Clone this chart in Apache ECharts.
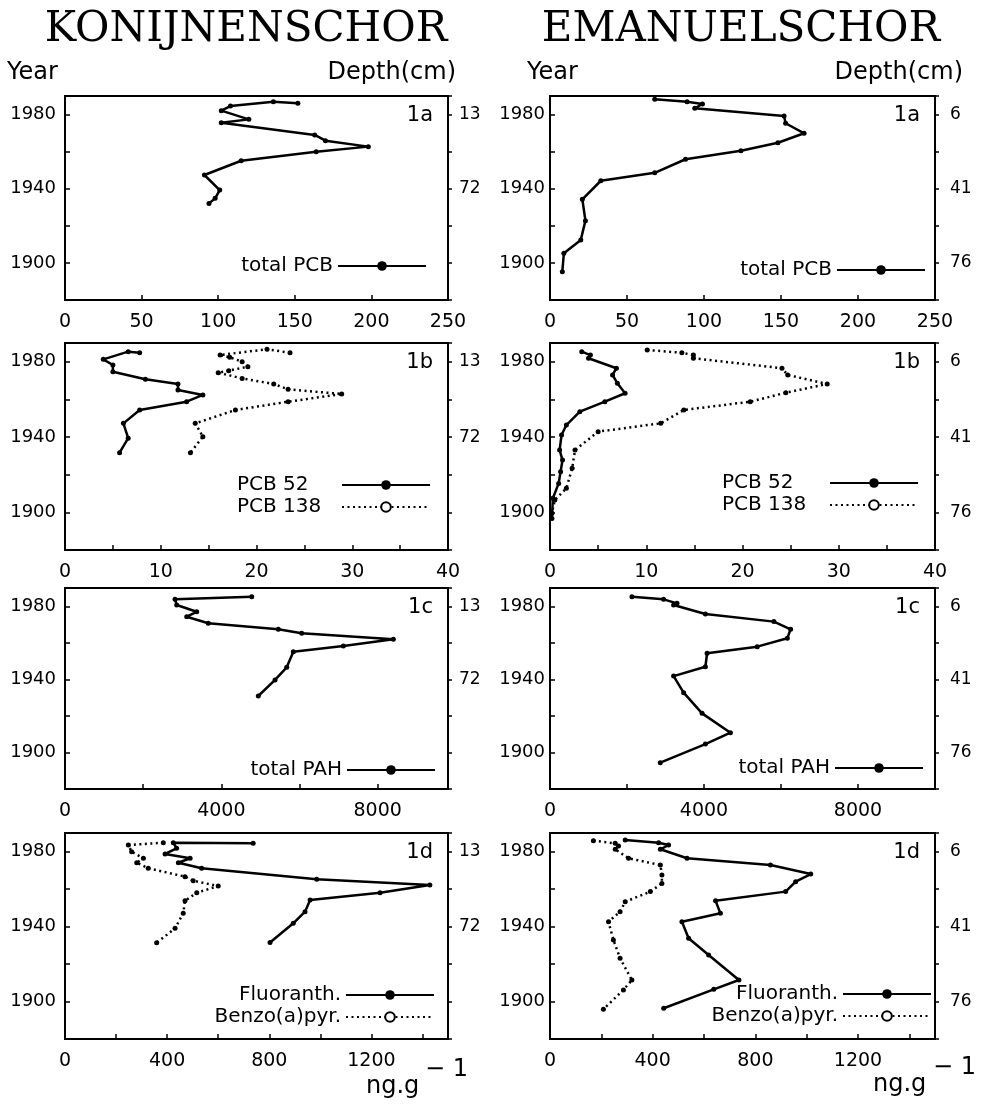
<!DOCTYPE html>
<html>
<head>
<meta charset="utf-8">
<script src="https://cdn.jsdelivr.net/npm/echarts@6/dist/echarts.min.js"></script>
<style>
html, body { margin: 0; padding: 0; background: #fff; }
#main { width: 985px; height: 1104px; }
</style>
</head>
<body>
<div id="main"></div>
<script>
// every point is [concentration, year] top to bottom
const konTotalPCB = [[152,1986.1],[136,1986.9],[108,1984.6],[102,1982.1],[120,1977.4],[102,1975.6],[163,1969],[170,1965.9],[198,1962.7],[164,1960],[115,1955.1],[91,1947.4],[101,1939.3],[98,1934.8],[94,1932.1]];
const emaTotalPCB = [[68,1988.2],[89,1986.9],[99,1985.7],[94,1983.4],[152,1979.2],[153,1975.3],[165,1969.9],[148,1964.8],[124,1960.5],[88,1955.9],[68,1948.6],[33,1944.3],[21,1934.3],[23,1922.8],[20,1912.4],[9,1905.2],[8,1895.3]];

const konPCB52 = [[7.8,1984.8],[6.6,1985.4],[4.0,1981.3],[5.0,1978.3],[5.0,1974.7],[8.4,1970.7],[11.8,1968.2],[11.8,1965],[14.4,1962.4],[12.7,1958.8],[7.8,1954.4],[6.1,1947.3],[6.6,1939.4],[5.7,1931.7]];
const konPCB138 = [[23.5,1984.8],[21.1,1986.7],[16.2,1983.6],[17.2,1982.4],[18.5,1980.1],[19.1,1977.4],[17.1,1975.3],[16.0,1974.2],[18.5,1971.2],[21.8,1968.2],[23.3,1965.4],[28.9,1962.9],[23.3,1958.8],[17.8,1954.4],[13.6,1947.3],[14.4,1940.2],[13.1,1931.7]];
const emaPCB52 = [[3.3,1985.4],[4.2,1983.6],[4.0,1981.9],[6.9,1976.6],[6.5,1973],[7.0,1968.6],[7.8,1963.3],[5.7,1958.8],[3.1,1953.5],[1.7,1946.4],[1.2,1941.1],[1.0,1933.1],[1.3,1927.8],[1.1,1921.6],[0.9,1915.4],[0.3,1907.5],[0.2,1896.8]];
const emaPCB138 = [[10.1,1986.3],[13.7,1984.8],[14.9,1983.6],[14.9,1981.9],[24.1,1976.6],[24.7,1973],[28.8,1968.2],[24.5,1963.6],[20.8,1958.8],[13.9,1954.4],[11.5,1947.3],[5.0,1942.9],[2.6,1933.1],[2.3,1923.4],[1.7,1912.8],[0.5,1906.6],[0.2,1899.5]];

const konTotalPAH = [[4778,1985.2],[2815,1983.8],[2858,1980.7],[3370,1977],[3114,1974.3],[3667,1970.7],[5458,1967.4],[6057,1965.2],[8401,1961.9],[7122,1958.3],[5842,1955.1],[5673,1946.6],[5374,1939.7],[4946,1930.9]];
const emaTotalPAH = [[2128,1985.2],[2950,1983.8],[3299,1981.6],[3211,1980.7],[4036,1975.8],[5815,1971.6],[6250,1967.4],[6164,1962.5],[5383,1957.9],[4081,1954.3],[4036,1946.9],[3211,1941.8],[3471,1932.7],[3950,1921.4],[4687,1910.8],[4036,1904.6],[2864,1894.4]];

const konFluor = [[737,1984.5],[424,1984.8],[437,1981.8],[392,1978.8],[490,1976.5],[444,1974.1],[535,1971.2],[986,1965.3],[1429,1962.2],[1234,1958.1],[960,1954.2],[940,1948],[894,1941.8],[803,1931.5]];
const konBenzo = [[385,1984.8],[248,1983.6],[261,1980],[307,1976.5],[281,1974.1],[326,1971.2],[470,1966.7],[502,1964.5],[600,1961.7],[516,1958.1],[470,1953.8],[463,1947.1],[431,1939.1],[359,1931.4]];
const emaFluor = [[293,1986.3],[423,1984.8],[462,1983.6],[430,1981.3],[534,1976.5],[859,1972.9],[1016,1968.1],[957,1964],[918,1958.7],[645,1953.8],[664,1947.1],[514,1942.6],[540,1933.8],[618,1924.9],[736,1911.5],[638,1906.5],[443,1896.4]];
const emaBenzo = [[169,1985.9],[254,1984.5],[267,1983.1],[254,1981.3],[306,1976.5],[430,1972.9],[436,1967.6],[436,1963.1],[391,1958.7],[293,1953.3],[273,1948],[228,1942.6],[247,1932.9],[273,1923.1],[319,1911.5],[286,1906.2],[208,1895.9]];

// tick labels
const pcbTicks = [0, 50, 100, 150, 200, 250];
const congenerTicks = [0, 10, 20, 30, 40];
const pahTicks = [0, 4000, 8000];
const singlePahTicks = [0, 400, 800, 1200];
const yearTicks = [1900, 1940, 1980];
const konDepth = { 1980: '13', 1940: '72' };
const emaDepth = { 1980: '6', 1940: '41', 1900: '76' };

const colLeft = [65, 550];
const colWidth = [383, 385];
const rowTop = [96, 343, 588, 833];
const rowHeight = [204, 207, 201, 206];
const yearMargin = [9, 5];
const depthMargin = [11, 15];

const FONT = 'DejaVu Sans';

// legend: [x where the line sample starts, centre y of first item, text align, text box width]
const panels = [
  { col: 0, row: 0, tag: '1a', max: 250, step: 50, ticks: pcbTicks, depth: konDepth,
    lines: [['total PCB', konTotalPCB, false]], legend: [338, 268, 'right', 150] },
  { col: 1, row: 0, tag: '1a', max: 250, step: 50, ticks: pcbTicks, depth: emaDepth,
    lines: [['total PCB', emaTotalPCB, false]], legend: [837, 272, 'right', 150] },
  { col: 0, row: 1, tag: '1b', max: 40, step: 5, ticks: congenerTicks, depth: konDepth,
    lines: [['PCB 52', konPCB52, false], ['PCB 138', konPCB138, true]], legend: [342, 487, 'left', 100] },
  { col: 1, row: 1, tag: '1b', max: 40, step: 5, ticks: congenerTicks, depth: emaDepth,
    lines: [['PCB 52', emaPCB52, false], ['PCB 138', emaPCB138, true]], legend: [830, 485, 'left', 103] },
  { col: 0, row: 2, tag: '1c', max: 9800, step: 2000, ticks: pahTicks, depth: konDepth,
    lines: [['total PAH', konTotalPAH, false]], legend: [347, 772, 'right', 150] },
  { col: 1, row: 2, tag: '1c', max: 10000, step: 2000, ticks: pahTicks, depth: emaDepth,
    lines: [['total PAH', emaTotalPAH, false]], legend: [835, 770, 'right', 150] },
  { col: 0, row: 3, tag: '1d', max: 1500, step: 200, ticks: singlePahTicks, depth: konDepth,
    lines: [['Fluoranth.', konFluor, false], ['Benzo(a)pyr.', konBenzo, true]], legend: [346, 997, 'right', 160] },
  { col: 1, row: 3, tag: '1d', max: 1500, step: 200, ticks: singlePahTicks, depth: emaDepth,
    lines: [['Fluoranth.', emaFluor, false], ['Benzo(a)pyr.', emaBenzo, true]], legend: [843, 996, 'right', 160] }
];

const grid = [], xAxis = [], yAxis = [], series = [], legend = [], graphic = [];

panels.forEach((p, i) => {
  grid.push({
    left: colLeft[p.col], top: rowTop[p.row], width: colWidth[p.col], height: rowHeight[p.row],
    show: true, borderColor: '#000', borderWidth: 2, backgroundColor: 'transparent'
  });
  xAxis.push({
    type: 'value', gridIndex: i, min: 0, max: p.max, interval: p.step,
    axisLine: { lineStyle: { color: '#000', width: 2 } },
    axisTick: { inside: true, length: 5, lineStyle: { color: '#000', width: 1.5 } },
    splitLine: { show: false },
    axisLabel: {
      margin: 13, color: '#000', fontFamily: FONT, fontSize: 19,
      formatter: v => p.ticks.includes(v) ? String(v) : ''
    }
  });
  // year axis on the left
  yAxis.push({
    type: 'value', gridIndex: i, position: 'left', min: 1880, max: 1990, interval: 20,
    axisLine: { lineStyle: { color: '#000', width: 2 } },
    axisTick: { inside: true, length: 5, lineStyle: { color: '#000', width: 1.5 } },
    splitLine: { show: false },
    axisLabel: {
      margin: yearMargin[p.col], color: '#000', fontFamily: FONT, fontSize: 18,
      formatter: v => yearTicks.includes(v) ? String(v) : ''
    }
  });
  // depth labels on the right
  yAxis.push({
    type: 'value', gridIndex: i, position: 'right', min: 1880, max: 1990, interval: 20,
    axisLine: { show: true, lineStyle: { color: '#000', width: 2 } },
    axisTick: { show: true, length: 4, lineStyle: { color: '#000', width: 1.5 } },
    splitLine: { show: false },
    axisLabel: {
      margin: depthMargin[p.col], color: '#000', fontFamily: FONT, fontSize: 17,
      formatter: v => p.depth[v] || ''
    }
  });

  p.lines.forEach(([name, data, dotted]) => {
    series.push({
      type: 'line', name: name, data: data,
      xAxisIndex: i, yAxisIndex: i * 2,
      symbol: 'circle', symbolSize: 5, showSymbol: true,
      itemStyle: { color: '#000' },
      lineStyle: dotted ? { color: '#000', width: 2.5, type: [2, 3.5] } : { color: '#000', width: 2.5 },
      animation: false
    });
  });

  const [iconX, cy, align, w] = p.legend;
  legend.push({
    orient: 'vertical', left: iconX - 5 - w, top: cy - 12, padding: 0,
    itemGap: 2, itemWidth: 88, itemHeight: 12, align: 'right',
    selectedMode: false,
    data: p.lines.map(([name, , dotted]) => dotted
      ? { name: name, itemStyle: { color: '#fff', borderColor: '#000', borderWidth: 2 } }
      : { name: name }),
    formatter: '{t|{name}}',
    textStyle: {
      rich: { t: { width: w, align: align, fontFamily: FONT, fontSize: 20, lineHeight: 24, color: '#000' } }
    }
  });

  graphic.push({
    type: 'text', x: colLeft[p.col] + colWidth[p.col] - 15, y: rowTop[p.row] + 20,
    style: { text: p.tag, font: '21px "' + FONT + '"', fill: '#000', align: 'right', verticalAlign: 'middle' }
  });
});

const txt = (x, y, s, size, align, family) => ({
  type: 'text', x: x, y: y,
  style: { text: s, font: size + 'px "' + (family || FONT) + '"', fill: '#000', align: align, verticalAlign: 'middle' }
});

graphic.push(
  txt(246, 30, 'KONIJNENSCHOR', 42, 'center', 'DejaVu Serif'),
  txt(741, 30, 'EMANUELSCHOR', 42, 'center', 'DejaVu Serif'),
  txt(7, 73, 'Year', 24, 'left'),
  txt(456, 73, 'Depth(cm)', 24, 'right'),
  txt(527, 73, 'Year', 24, 'left'),
  txt(963, 73, 'Depth(cm)', 24, 'right'),
  txt(366, 1087, 'ng.g', 24, 'left'),
  txt(425, 1070, '− 1', 24, 'left'),
  txt(873, 1085, 'ng.g', 24, 'left'),
  txt(933, 1068, '− 1', 24, 'left')
);

const chart = echarts.init(document.getElementById('main'));
chart.setOption({
  animation: false,
  backgroundColor: '#fff',
  grid: grid,
  xAxis: xAxis,
  yAxis: yAxis,
  legend: legend,
  series: series,
  graphic: graphic
});
</script>
</body>
</html>
